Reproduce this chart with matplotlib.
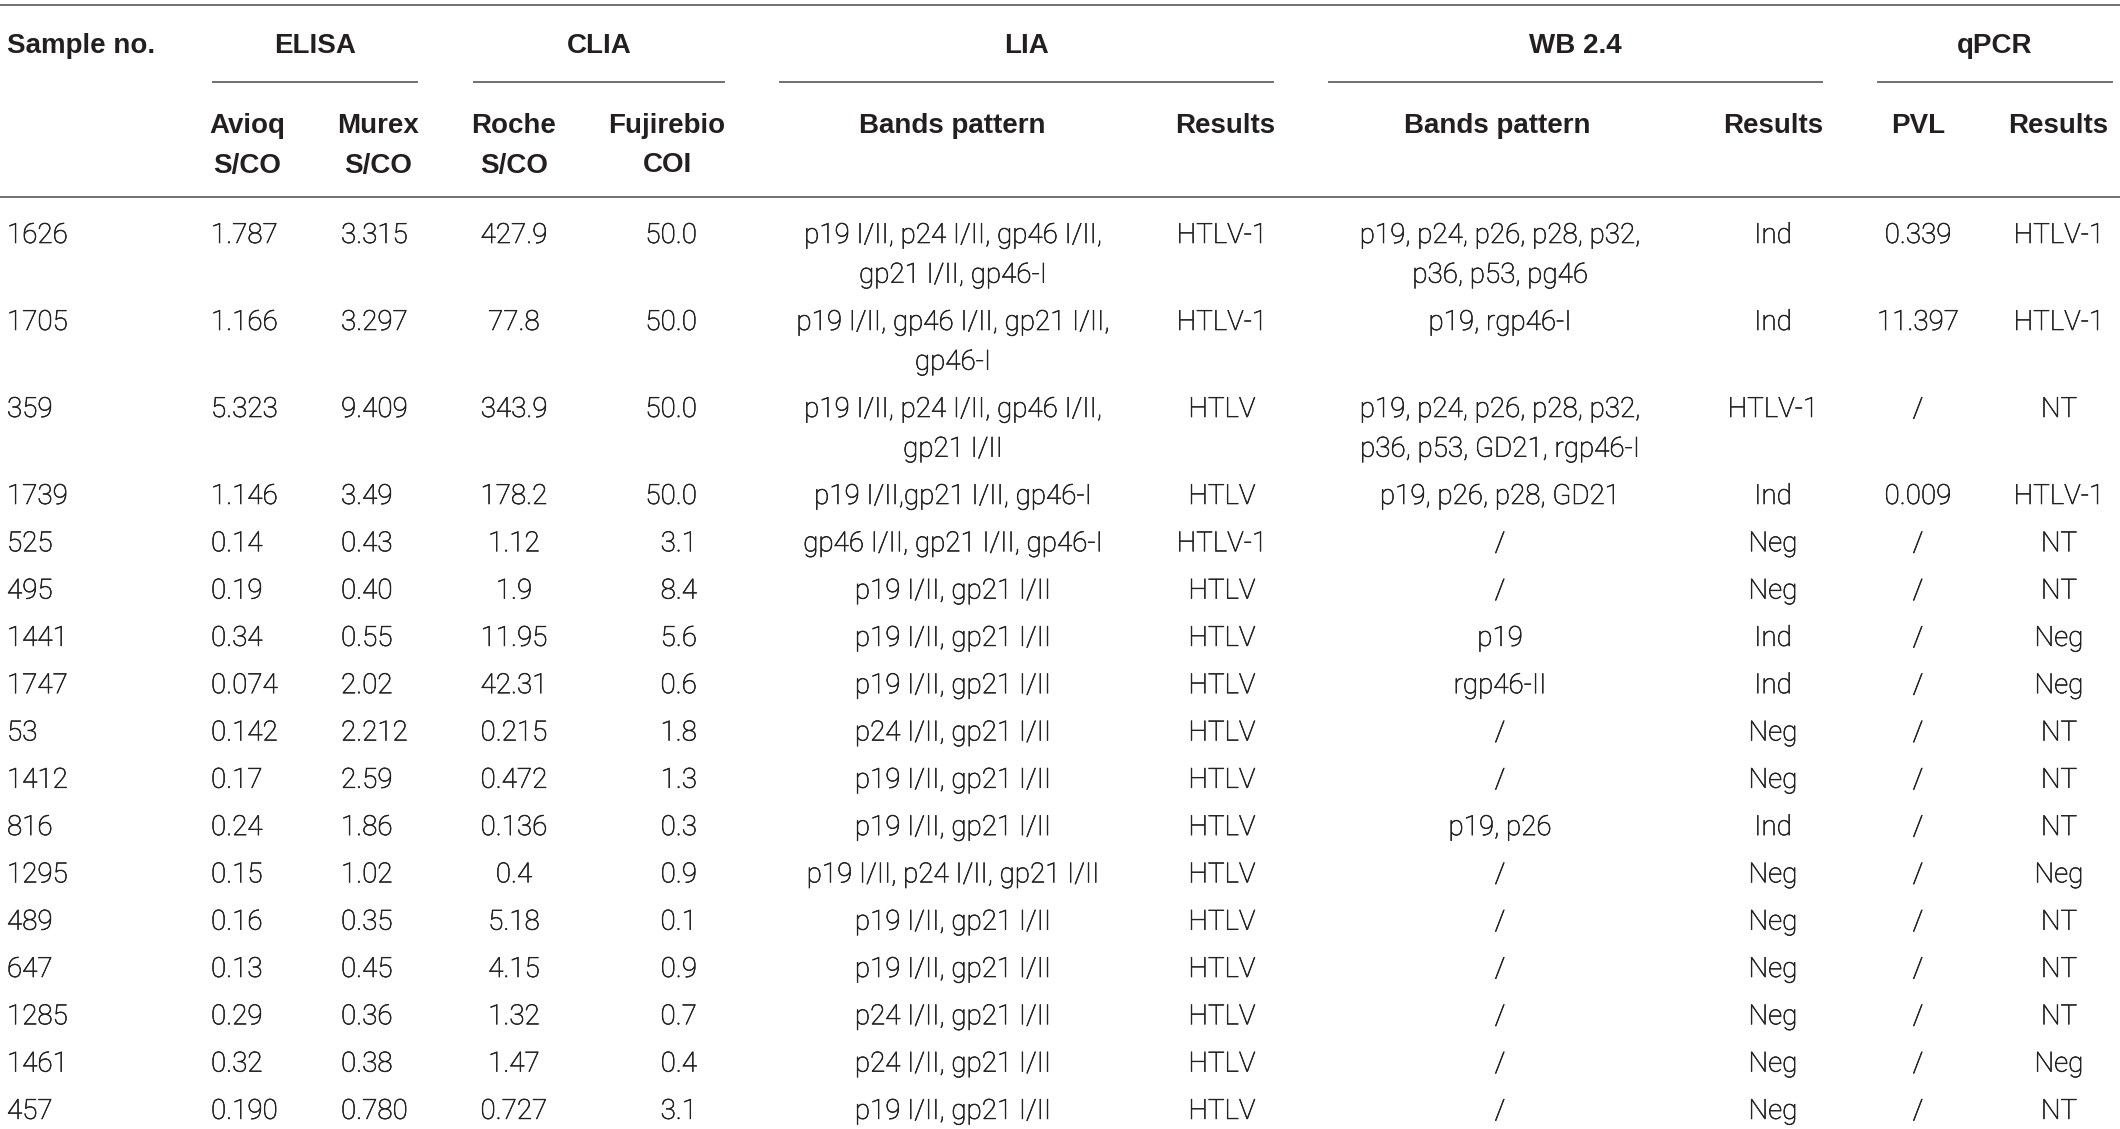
import matplotlib.pyplot as plt
import matplotlib.patheffects as pe

# ---- table content ----
sample_no = ['1626', '1705', '359', '1739', '525', '495', '1441', '1747', '53',
             '1412', '816', '1295', '489', '647', '1285', '1461', '457']
avioq = ['1.787', '1.166', '5.323', '1.146', '0.14', '0.19', '0.34', '0.074', '0.142',
         '0.17', '0.24', '0.15', '0.16', '0.13', '0.29', '0.32', '0.190']
murex = ['3.315', '3.297', '9.409', '3.49', '0.43', '0.40', '0.55', '2.02', '2.212',
         '2.59', '1.86', '1.02', '0.35', '0.45', '0.36', '0.38', '0.780']
roche = ['427.9', '77.8', '343.9', '178.2', '1.12', '1.9', '11.95', '42.31', '0.215',
         '0.472', '0.136', '0.4', '5.18', '4.15', '1.32', '1.47', '0.727']
fujirebio = ['50.0', '50.0', '50.0', '50.0', '3.1', '8.4', '5.6', '0.6', '1.8',
             '1.3', '0.3', '0.9', '0.1', '0.9', '0.7', '0.4', '3.1']
lia_bands = ['p19 I/II, p24 I/II, gp46 I/II,\ngp21 I/II, gp46-I',
             'p19 I/II, gp46 I/II, gp21 I/II,\ngp46-I',
             'p19 I/II, p24 I/II, gp46 I/II,\ngp21 I/II',
             'p19 I/II,gp21 I/II, gp46-I',
             'gp46 I/II, gp21 I/II, gp46-I',
             'p19 I/II, gp21 I/II', 'p19 I/II, gp21 I/II', 'p19 I/II, gp21 I/II',
             'p24 I/II, gp21 I/II', 'p19 I/II, gp21 I/II', 'p19 I/II, gp21 I/II',
             'p19 I/II, p24 I/II, gp21 I/II', 'p19 I/II, gp21 I/II',
             'p19 I/II, gp21 I/II', 'p24 I/II, gp21 I/II', 'p24 I/II, gp21 I/II',
             'p19 I/II, gp21 I/II']
lia_results = ['HTLV-1', 'HTLV-1', 'HTLV', 'HTLV', 'HTLV-1'] + ['HTLV'] * 12
wb_bands = ['p19, p24, p26, p28, p32,\np36, p53, pg46',
            'p19, rgp46-I',
            'p19, p24, p26, p28, p32,\np36, p53, GD21, rgp46-I',
            'p19, p26, p28, GD21', '/', '/', 'p19', 'rgp46-II', '/', '/',
            'p19, p26', '/', '/', '/', '/', '/', '/']
wb_results = ['Ind', 'Ind', 'HTLV-1', 'Ind', 'Neg', 'Neg', 'Ind', 'Ind', 'Neg',
              'Neg', 'Ind', 'Neg', 'Neg', 'Neg', 'Neg', 'Neg', 'Neg']
pvl = ['0.339', '11.397', '/', '0.009'] + ['/'] * 13
qpcr_results = ['HTLV-1', 'HTLV-1', 'NT', 'HTLV-1', 'NT', 'NT', 'Neg', 'Neg', 'NT',
                'NT', 'NT', 'Neg', 'NT', 'NT', 'NT', 'Neg', 'NT']

groups = ['ELISA', 'CLIA', 'LIA', 'WB 2.4', 'qPCR']
subheads = ['Avioq\nS/CO', 'Murex\nS/CO', 'Roche\nS/CO', 'Fujirebio\nCOI',
            'Bands pattern', 'Results', 'Bands pattern', 'Results', 'PVL', 'Results']

# ---- layout (pixels) ----
W, H = 2120, 1129
BODY = dict(family='Roboto', fontweight='light', fontsize=20, color='#222222',
            path_effects=[pe.withStroke(linewidth=0.45, foreground='#222222')])
HEAD = dict(family='Liberation Sans', fontweight='bold', fontsize=20, color='#231f20')
LINE = dict(color='#707070', lw=1.4)

# (x, ha) for each data column after Sample no.
data_cols = [(211, 'left'), (341, 'left'), (514, 'center'), (697, 'right'),
             (953, 'center'), (1222, 'center'), (1500, 'center'), (1773, 'center'),
             (1918, 'center'), (2059, 'center')]
head_x = [247, 378, 514, 667, 952, 1225, 1497, 1773, 1918, 2058]
group_spans = [(213, 417), (474, 724), (780, 1273), (1329, 1822), (1878, 2112)]

fig = plt.figure(figsize=(W / 100, H / 100), dpi=100)
ax = fig.add_axes([0, 0, 1, 1])
ax.set_xlim(0, W)
ax.set_ylim(H, 0)
ax.axis('off')

# rules
ax.plot([0, W], [5, 5], **LINE)
ax.plot([0, W], [197, 197], **LINE)
for x0, x1 in group_spans:
    ax.plot([x0, x1], [82, 82], **LINE)

# header
ax.text(7, 53, 'Sample no.', ha='left', va='baseline', **HEAD)
for (x0, x1), g in zip(group_spans, groups):
    ax.text((x0 + x1) / 2, 53, g, ha='center', va='baseline', **HEAD)
for x, s in zip(head_x, subheads):
    for i, part in enumerate(s.split('\n')):
        ax.text(x, 133 + i * 39.5, part, ha='center', va='baseline', **HEAD)

# body
columns = [avioq, murex, roche, fujirebio, lia_bands, lia_results,
           wb_bands, wb_results, pvl, qpcr_results]
y = 233
for r in range(len(sample_no)):
    ax.text(7, y + 10, sample_no[r], ha='left', va='baseline', **BODY)
    nlines = 1
    for (x, ha), col in zip(data_cols, columns):
        parts = col[r].split('\n')
        nlines = max(nlines, len(parts))
        for i, part in enumerate(parts):
            ax.text(x, y + 10 + i * 39.7, part, ha=ha, va='baseline', **BODY)
    y += 47.3 + 39.7 * (nlines - 1)

fig.savefig('out.png', dpi=100)
